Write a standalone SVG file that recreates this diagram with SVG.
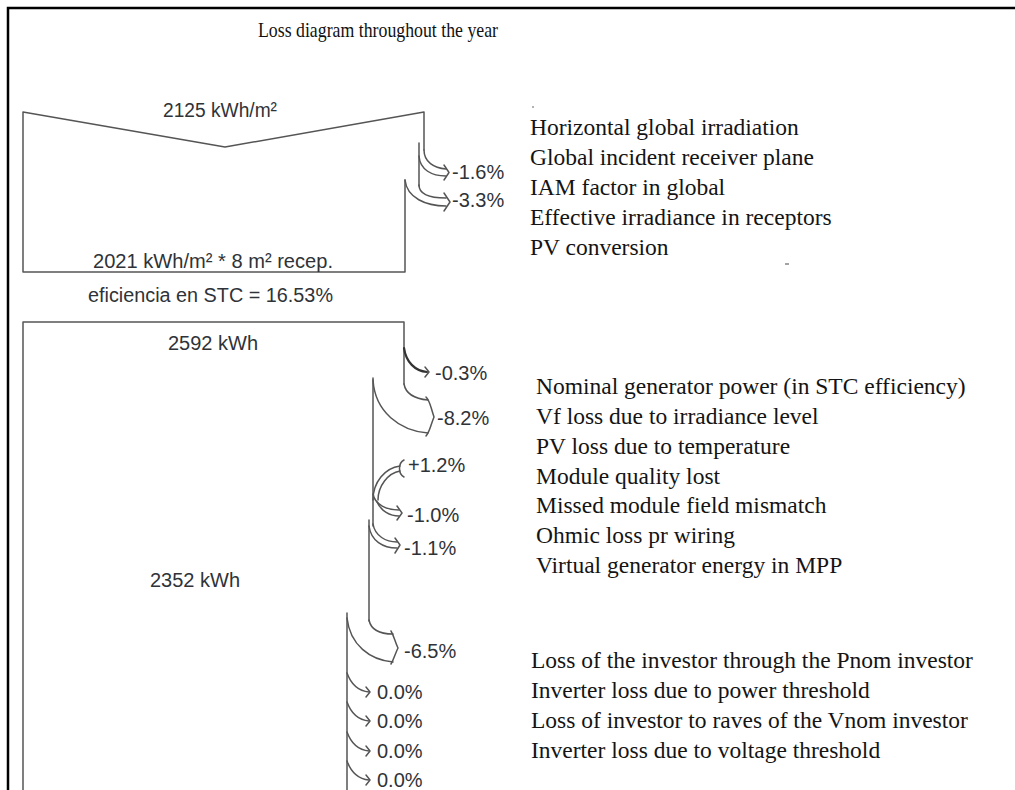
<svg xmlns="http://www.w3.org/2000/svg" width="1015" height="790" viewBox="0 0 1015 790">
<style>
.frame{fill:none;stroke:#000;stroke-width:2.5}
.ln{fill:none;stroke:#555;stroke-width:1.5;stroke-linejoin:round;stroke-linecap:round}
.dk{fill:none;stroke:#333;stroke-width:2.2;stroke-linecap:round}
.lbl{font-family:"Liberation Sans",Arial,sans-serif;font-size:20px;fill:#2f3338}
.txt{font-family:"Liberation Serif","Times New Roman",serif;font-size:23.5px;fill:#141414}
.title{font-family:"Liberation Serif","Times New Roman",serif;font-size:21px;fill:#111}
.dot{stroke:#666;stroke-width:1.2}
</style>
<rect width="1015" height="790" fill="#fff"/>
<path class="frame" d="M8,790 L8,8 L1015,8"/>
<g id="title"><text class="title" x="258" y="37" textLength="240" lengthAdjust="spacingAndGlyphs">Loss diagram throughout the year</text></g>

<g id="irradiation-box">
<path class="ln" d="M424,150 L424,112 L225,147 L23,112 L23,272 L405,272 L405,180"/>
<path class="ln" d="M419,143 L419,186"/>
<text class="lbl" x="163" y="117" textLength="114" lengthAdjust="spacingAndGlyphs">2125 kWh/m²</text>
<text class="lbl" x="93" y="268" textLength="240" lengthAdjust="spacingAndGlyphs">2021 kWh/m² * 8 m² recep.</text>
</g>
<g id="efficiency"><text class="lbl" x="88" y="302" textLength="245" lengthAdjust="spacingAndGlyphs">eficiencia en STC = 16.53%</text></g>

<g id="energy-box">
<path class="ln" d="M23,790 L23,322 L404,322 L404,384"/>
<path class="ln" d="M373,378 L373,526"/>
<path class="ln" d="M369,520 L369,621"/>
<path class="ln" d="M347,613 L347,790"/>
<text class="lbl" x="168" y="350">2592 kWh</text>
<text class="lbl" x="150" y="587">2352 kWh</text>
</g>

<g id="connectors">
<!-- -1.6% -->
<path class="ln" d="M424,150 C424,162 434,168 446,169"/>
<path class="ln" d="M419,156 C420,170 432,176 446,176"/>
<path class="ln" d="M444,165 L449,172.5 L444,180"/>
<!-- -3.3% -->
<path class="ln" d="M419,185 C419,195 431,198 446,198"/>
<path class="ln" d="M405,180 C407,198 426,206 446,206"/>
<path class="ln" d="M444,193 L450,202 L444,211"/>
<!-- -0.3% -->
<path class="dk" d="M404,348 C406,362 415,371 427,372"/>
<path class="ln" d="M425,367 L429,372 L425,377"/>
<!-- -8.2% -->
<path class="ln" d="M404,384 C406,395 417,399 428,400"/>
<path class="ln" d="M373,380 C375,412 400,431 428,433"/>
<path class="ln" d="M426,397 C430,401 430,405 434,417 C430,427 430,431 426,436"/>
<!-- +1.2% -->
<path class="ln" d="M373,500 C373,482 385,468 400,466"/>
<path class="ln" d="M378,500 C378,486 388,473 400,471"/>
<path class="ln" d="M404,460 C398,463 398,474 404,477"/>
<!-- -1.0% -->
<path class="ln" d="M373,494 C375,505 387,510 399,510"/>
<path class="ln" d="M377,502 C381,511 390,516 399,516"/>
<path class="ln" d="M397,506 L402,513 L397,520"/>
<!-- -1.1% -->
<path class="ln" d="M373,524 C375,536 386,542 397,542"/>
<path class="ln" d="M369,526 C371,541 383,548 397,548"/>
<path class="ln" d="M395,538 L400,545 L395,553"/>
<!-- -6.5% -->
<path class="ln" d="M369,620 C371,630 381,634 393,634"/>
<path class="ln" d="M347,618 C350,645 370,660 393,662"/>
<path class="ln" d="M391,631 C394,636 395,642 398,648 C395,654 394,659 391,664"/>
<!-- 0.0% x4 -->
<path class="ln" d="M347,673 C351,684 358,691 369,692"/>
<path class="ln" d="M366,687 L370,692 L366,697"/>
<path class="ln" d="M347,702 C351,713 358,720 369,721"/>
<path class="ln" d="M366,716 L370,721 L366,726"/>
<path class="ln" d="M347,732 C351,743 358,750 369,751"/>
<path class="ln" d="M366,746 L370,751 L366,756"/>
<path class="ln" d="M347,761 C351,772 358,779 369,780"/>
<path class="ln" d="M366,775 L370,780 L366,785"/>
</g>

<g id="loss-labels">
<text class="lbl" x="452" y="179">-1.6%</text>
<text class="lbl" x="452" y="207">-3.3%</text>
<text class="lbl" x="435" y="380">-0.3%</text>
<text class="lbl" x="437" y="425">-8.2%</text>
<text class="lbl" x="408" y="472">+1.2%</text>
<text class="lbl" x="407" y="522">-1.0%</text>
<text class="lbl" x="404" y="555">-1.1%</text>
<text class="lbl" x="404" y="658">-6.5%</text>
<text class="lbl" x="377" y="699">0.0%</text>
<text class="lbl" x="377" y="728">0.0%</text>
<text class="lbl" x="377" y="758">0.0%</text>
<text class="lbl" x="377" y="787">0.0%</text>
</g>

<g id="legend-irradiance">
<line class="dot" x1="532" y1="107" x2="534" y2="107"/>
<text class="txt" x="530" y="135">Horizontal global irradiation</text>
<text class="txt" x="530" y="165">Global incident receiver plane</text>
<text class="txt" x="530" y="195">IAM factor in global</text>
<text class="txt" x="530" y="225">Effective irradiance in receptors</text>
<text class="txt" x="530" y="255">PV conversion</text>
<line class="dot" x1="785" y1="264" x2="789" y2="264"/>
</g>

<g id="legend-generator">
<text class="txt" x="536" y="394">Nominal generator power (in STC efficiency)</text>
<text class="txt" x="536" y="424">Vf loss due to irradiance level</text>
<text class="txt" x="536" y="454">PV loss due to temperature</text>
<text class="txt" x="536" y="484">Module quality lost</text>
<text class="txt" x="536" y="513">Missed module field mismatch</text>
<text class="txt" x="536" y="543">Ohmic loss pr wiring</text>
<text class="txt" x="536" y="573">Virtual generator energy in MPP</text>
</g>

<g id="legend-inverter">
<text class="txt" x="531" y="668">Loss of the investor through the Pnom investor</text>
<text class="txt" x="531" y="698">Inverter loss due to power threshold</text>
<text class="txt" x="531" y="728">Loss of investor to raves of the Vnom investor</text>
<text class="txt" x="531" y="758">Inverter loss due to voltage threshold</text>
</g>
</svg>
